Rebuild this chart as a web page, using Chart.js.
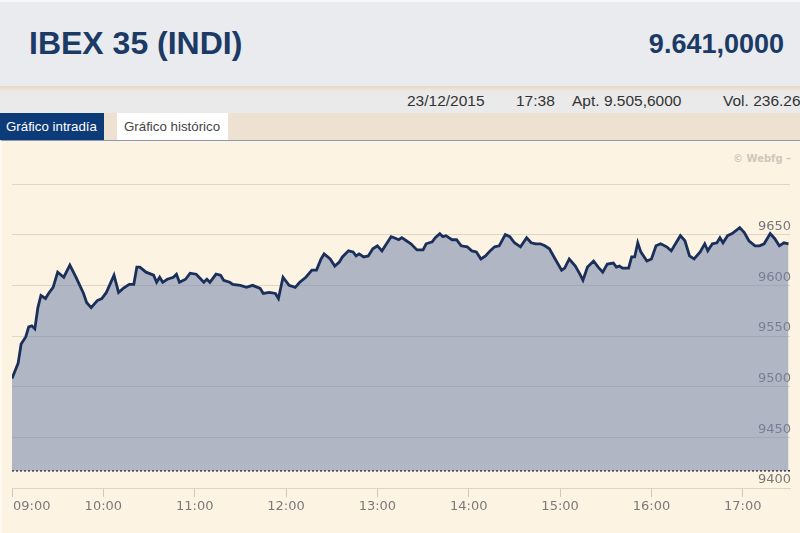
<!DOCTYPE html>
<html>
<head>
<meta charset="utf-8">
<script src="https://cdn.jsdelivr.net/npm/chart.js@4"></script>
<style>
  body { margin: 0; width: 800px; height: 533px; overflow: hidden; background: #fdf3e3; font-family: "Liberation Sans", Arial, sans-serif; position: relative; }
  .head { position: absolute; left: 0; top: 0; width: 800px; height: 86px; background: #e9ebee; border-top: 2px solid #f6f7f8; box-sizing: border-box; }
  .title { position: absolute; left: 29px; top: 23px; font-size: 32px; font-weight: bold; color: #1b3a66; }
  .last { position: absolute; right: 16px; top: 27px; font-size: 27px; font-weight: bold; color: #1b3a66; }
  .sep { position: absolute; left: 0; top: 86px; width: 800px; height: 5px; background: linear-gradient(#e8d9c6, #ebe7e1); }
  .info { position: absolute; left: 0; top: 91px; width: 800px; height: 22px; background: #eaeaea; font-size: 15.5px; color: #333; white-space: nowrap; overflow: hidden; }
  .info span { position: absolute; top: 1px; }
  .tabs { position: absolute; left: 0; top: 113px; width: 800px; height: 27px; background: #ede1d1; }
  .tab { position: absolute; top: 0; height: 27px; line-height: 27px; font-size: 13.3px; }
  .on { left: 0; width: 104px; background: #0d3a78; color: #fff; padding-left: 6px; box-sizing: border-box; }
  .off { left: 117px; width: 111px; background: #fff; color: #444; padding-left: 7px; box-sizing: border-box; }
  .panel { position: absolute; left: 0; top: 140px; width: 800px; height: 393px; border-top: 1px solid #8d98b6; border-left: 2px solid #fff9f0; box-sizing: border-box; }
  .wm { position: absolute; left: 733px; top: 153px; font-family: "DejaVu Sans", sans-serif; font-size: 10px; font-weight: bold; color: #cfc7bb; }
  canvas { position: absolute; left: 0; top: 140px; }
</style>
</head>
<body>
<div class="head">
  <div class="title">IBEX 35 (INDI)</div>
  <div class="last">9.641,0000</div>
</div>
<div class="sep"></div>
<div class="info">
  <span style="left:407px">23/12/2015</span>
  <span style="left:516px">17:38</span>
  <span style="left:572px">Apt. 9.505,6000</span>
  <span style="left:723px">Vol. 236.26</span>
</div>
<div class="tabs">
  <div class="tab on">Gráfico intradía</div>
  <div class="tab off">Gráfico histórico</div>
</div>
<div class="panel"></div>
<div class="wm">© Webfg –</div>
<canvas id="chart" width="800" height="393"></canvas>
<script>
const times = [
  '09:00','09:04','09:06','09:09','09:11','09:13','09:15','09:17','09:19','09:22',
  '09:24','09:27','09:30','09:34','09:38','09:42','09:47','09:49','09:52','09:56',
  '09:59','10:02','10:07','10:10','10:13','10:17','10:20','10:22','10:24','10:28',
  '10:33','10:35','10:37','10:39','10:42','10:46','10:48','10:50','10:54','10:57',
  '11:01','11:06','11:08','11:10','11:14','11:17','11:19','11:23','11:25','11:30',
  '11:34','11:38','11:43','11:45','11:49','11:53','11:55','11:58','12:02','12:06',
  '12:09','12:13','12:17','12:20','12:23','12:25','12:29','12:32','12:35','12:37',
  '12:41','12:44','12:46','12:48','12:51','12:54','12:57','13:00','13:03','13:06',
  '13:09','13:11','13:14','13:16','13:19','13:22','13:26','13:30','13:32','13:36',
  '13:38','13:41','13:43','13:45','13:49','13:52','13:55','13:59','14:02','14:05',
  '14:08','14:11','14:14','14:17','14:20','14:24','14:27','14:30','14:34','14:38',
  '14:41','14:44','14:47','14:50','14:53','14:56','15:01','15:03','15:06','15:10',
  '15:13','15:15','15:18','15:22','15:25','15:28','15:31','15:35','15:37','15:39',
  '15:41','15:45','15:47','15:49','15:51','15:53','15:57','16:00','16:03','16:06',
  '16:10','16:13','16:15','16:19','16:22','16:25','16:28','16:32','16:35','16:37',
  '16:40','16:43','16:45','16:47','16:50','16:53','16:58','17:01','17:04','17:08',
  '17:11','17:14','17:18','17:21','17:24','17:27','17:30'
];
const prices = [
  9508,9523,9542,9549,9559,9560,9557,9578,9590,9587,
  9592,9598,9613,9608,9620,9608,9592,9583,9578,9585,
  9587,9593,9610,9593,9597,9601,9601,9618,9618,9613,
  9610,9603,9608,9603,9606,9608,9611,9603,9606,9612,
  9611,9603,9606,9603,9611,9610,9605,9603,9601,9600,
  9598,9600,9597,9592,9593,9592,9587,9608,9600,9598,
  9603,9608,9615,9615,9626,9631,9626,9619,9623,9628,
  9634,9633,9629,9631,9628,9629,9636,9639,9634,9641,
  9648,9647,9645,9647,9644,9641,9635,9635,9641,9643,
  9647,9651,9648,9649,9645,9645,9639,9638,9634,9633,
  9626,9629,9634,9638,9639,9650,9648,9642,9638,9647,
  9642,9641,9641,9639,9636,9628,9615,9617,9626,9619,
  9611,9605,9618,9624,9618,9613,9621,9622,9618,9619,
  9617,9617,9628,9628,9642,9633,9624,9626,9639,9641,
  9638,9634,9639,9649,9644,9629,9626,9633,9641,9634,
  9641,9642,9647,9642,9649,9651,9657,9652,9644,9639,
  9639,9641,9651,9646,9639,9642,9641
];
const tickLabels = ['09:00','10:00','11:00','12:00','13:00','14:00','15:00','16:00','17:00'];
const yTicks = [9400, 9450, 9500, 9550, 9600, 9650, 9700];
const baseLevel = 9417;
const sessionEnd = '17:31';

// minutes from 09:00
const toMin = t => { const p = t.split(':'); return +p[0] * 60 + +p[1] - 540; };

const series = times.map((t, i) => ({ x: toMin(t), y: prices[i] }));
const xEnd = toMin(sessionEnd);

const xLabels = {
  id: 'xLabels',
  afterDraw(chart) {
    const ctx = chart.ctx, sx = chart.scales.x, area = chart.chartArea;
    ctx.save();
    ctx.font = '13px "DejaVu Sans"';
    ctx.fillStyle = '#7a7a7a';
    ctx.textBaseline = 'middle';
    tickLabels.forEach((l, i) => {
      const px = sx.getPixelForValue(toMin(l));
      ctx.textAlign = i === 0 ? 'left' : 'center';
      ctx.fillText(l, i === 0 ? px + 1 : px, area.bottom + 19);
    });
    ctx.restore();
  }
};

new Chart(document.getElementById('chart'), {
  type: 'line',
  data: {
    datasets: [{
      data: series,
      borderColor: '#1a2f5a',
      borderWidth: 2.8,
      backgroundColor: 'rgba(118,134,172,0.56)',
      fill: { value: baseLevel },
      pointRadius: 0,
      tension: 0
    }, {
      data: [{ x: 0, y: baseLevel }, { x: xEnd, y: baseLevel }],
      borderColor: '#222',
      borderWidth: 1.5,
      borderDash: [2, 2],
      pointRadius: 0,
      fill: false
    }]
  },
  options: {
    responsive: false,
    animation: false,
    layout: { padding: { top: 44, left: 12, right: 0, bottom: 0 } },
    plugins: { legend: { display: false }, tooltip: { enabled: false } },
    scales: {
      x: {
        type: 'linear',
        min: 0,
        max: xEnd,
        afterBuildTicks: s => { s.ticks = tickLabels.map(l => ({ value: toMin(l) })); },
        afterFit: s => { s.height = 45; },
        ticks: { display: false },
        grid: { drawOnChartArea: false, tickLength: 9, color: '#d2cabd' },
        border: { display: true, color: '#dcd4c7' }
      },
      y: {
        position: 'right',
        min: yTicks[0],
        max: yTicks[yTicks.length - 1],
        afterBuildTicks: s => { s.ticks = yTicks.map(v => ({ value: v })); },
        afterFit: s => { s.width = 10; },
        ticks: {
          mirror: true,
          padding: 1,
          labelOffset: -8,
          color: '#777',
          font: { family: 'DejaVu Sans', size: 13 },
          callback: v => v === yTicks[yTicks.length - 1] ? '' : v
        },
        grid: { color: '#dfd6c8', drawTicks: false },
        border: { display: false }
      }
    }
  },
  plugins: [xLabels]
});
</script>
</body>
</html>
